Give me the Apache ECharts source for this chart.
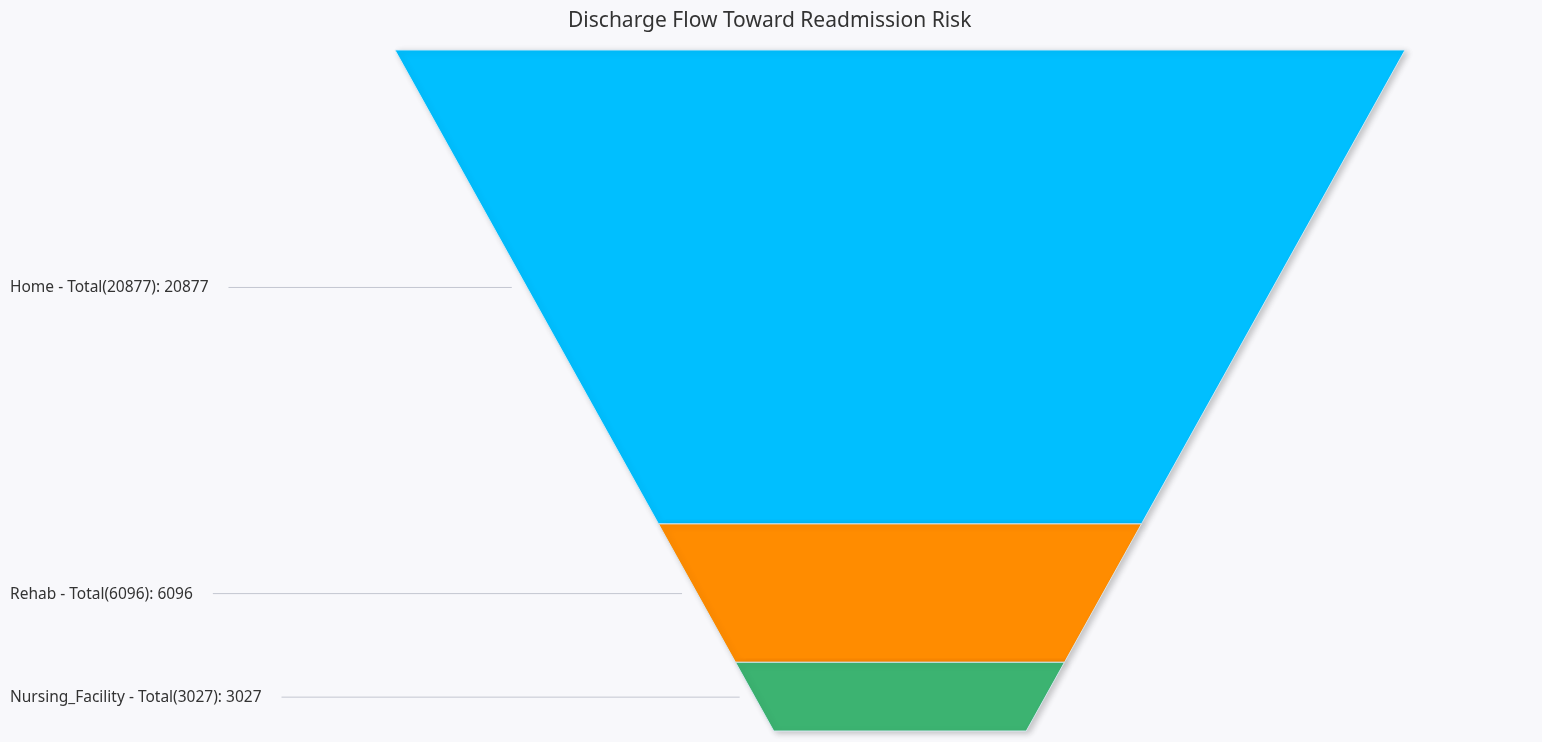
<!DOCTYPE html>
<html>
<head>
<meta charset="utf-8">
<script src="https://cdn.jsdelivr.net/npm/echarts@6/dist/echarts.min.js"></script>
<style>
    html, body { margin: 0; padding: 0; background: #f8f8fb; }
    #chart { width: 1542px; height: 742px; }
</style>
</head>
<body>
<div id="chart"></div>
<script>
// data
const stages = ['Home', 'Rehab', 'Nursing_Facility'];
const totals = [20877, 6096, 3027];
const values = [20877, 6096, 3027];
const colors = ['#00BFFF', '#FF8C00', '#3CB371'];

const FONT = '"Noto Sans", "Open Sans", sans-serif';
const LABEL_FONT = '15.5px ' + FONT;
const grandTotal = values.reduce((a, b) => a + b, 0);
const bottomRatio = 0.25; // funnel bottom width relative to top

// stacked ranges [start, end, index]
let acc = 0;
const ranges = values.map((v, i) => {
    const r = [acc, acc + v, i];
    acc += v;
    return r;
});

const labels = stages.map((s, i) => `${s} - Total(${totals[i]}): ${values[i]}`);

// measure label text for the leader line start
const ctx = document.createElement('canvas').getContext('2d');
ctx.font = LABEL_FONT;

function halfWidth(t) {
    return 1 - (1 - bottomRatio) * t / grandTotal;
}

function renderItem(params, api) {
    const start = api.value(0);
    const end = api.value(1);
    const i = api.value(2);

    const pts = [
        api.coord([-halfWidth(start), start]),
        api.coord([halfWidth(start), start]),
        api.coord([halfWidth(end), end]),
        api.coord([-halfWidth(end), end])
    ];
    const mid = (start + end) / 2;
    const edge = api.coord([-halfWidth(mid), mid]);
    const textW = ctx.measureText(labels[i]).width;

    return {
        type: 'group',
        children: [
            {
                type: 'polygon',
                shape: { points: pts },
                style: {
                    fill: colors[i],
                    stroke: 'rgba(220,235,245,0.9)',
                    lineWidth: 1,
                    shadowBlur: 6,
                    shadowOffsetX: 3,
                    shadowOffsetY: 2,
                    shadowColor: 'rgba(0,0,0,0.22)'
                }
            },
            {
                type: 'line',
                shape: { x1: 10 + textW + 20, y1: edge[1] + 0.5, x2: edge[0] - 15, y2: edge[1] + 0.5 },
                style: { stroke: '#c3c6d0', lineWidth: 1 }
            },
            {
                type: 'text',
                x: 10,
                y: edge[1] + 1,
                style: {
                    text: labels[i],
                    fill: '#333',
                    font: LABEL_FONT,
                    verticalAlign: 'middle',
                    align: 'left'
                }
            }
        ]
    };
}

const chart = echarts.init(document.getElementById('chart'));
chart.setOption({
    backgroundColor: '#f8f8fb',
    animation: false,
    title: {
        text: 'Discharge Flow Toward Readmission Risk',
        left: 563,
        top: 6,
        textStyle: { fontSize: 21, fontWeight: 'normal', color: '#333', fontFamily: FONT }
    },
    grid: { left: 395, right: 137, top: 50, bottom: 11 },
    xAxis: { type: 'value', min: -1, max: 1, show: false },
    yAxis: { type: 'value', min: 0, max: grandTotal, inverse: true, show: false },
    series: [{
        type: 'custom',
        renderItem: renderItem,
        data: ranges
    }]
});
</script>
</body>
</html>
